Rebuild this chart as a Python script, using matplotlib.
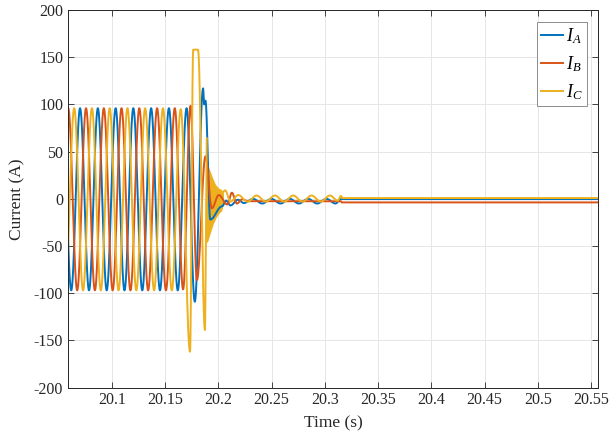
import numpy as np
import matplotlib
matplotlib.use("Agg")
import matplotlib.pyplot as plt

# extrema (time in s, current in A), one list per phase
t_A = [20.0537, 20.0620, 20.0703, 20.0787, 20.0870, 20.0953, 20.1037, 20.1120,
       20.1203, 20.1287, 20.1370, 20.1453, 20.1537, 20.1620, 20.1703, 20.1780,
       20.1858, 20.1868, 20.1880, 20.1925, 20.2035, 20.2075, 20.2115, 20.2185,
       20.2241, 20.2327, 20.2413, 20.2499, 20.2585, 20.2671, 20.2757, 20.2843,
       20.2929, 20.3015, 20.3101, 20.3150, 20.5600]
i_A = [96, -97, 96, -97, 96, -97, 96, -97,
       96, -97, 96, -97, 96, -97, 96, -109,
       117, 100, 104, -22, -8, -2, -7, -1,
       -4.5, 0, -5, 0, -5, 0, -5, 0,
       -5, 0, -5, -0.3, -0.3]

t_B = [20.0509, 20.0592, 20.0676, 20.0759, 20.0842, 20.0926, 20.1009, 20.1092,
       20.1176, 20.1259, 20.1342, 20.1426, 20.1509, 20.1592, 20.1670, 20.1740,
       20.1800, 20.1880, 20.1940, 20.2005, 20.2085, 20.2128, 20.2175, 20.2225,
       20.2280, 20.3150, 20.3160, 20.5600]
i_B = [-97, 96, -97, 96, -97, 96, -97, 96,
       -97, 96, -97, 96, -97, 96, -96, 98.5,
       -86, 45, -10, 4, -6, 6.5, -5, -0.5,
       -2.5, -2.5, -3.8, -3.8]

# phase C before the ringing burst
t_C1 = [20.0564, 20.0648, 20.0731, 20.0814, 20.0898, 20.0981, 20.1064, 20.1148,
        20.1231, 20.1314, 20.1398, 20.1481, 20.1564, 20.1648, 20.1735, 20.1765,
        20.1810, 20.1875, 20.1893]
i_C1 = [-97, 96, -97, 96, -97, 96, -97, 96,
        -97, 96, -97, 96, -97, 95, -162, 158,
        158, -139, 64]
# phase C after the burst
t_C2 = [20.2035, 20.2065, 20.2115, 20.2188, 20.2274, 20.2360, 20.2446, 20.2532,
        20.2618, 20.2704, 20.2790, 20.2876, 20.2962, 20.3049, 20.3120, 20.3153,
        20.3165, 20.5600]
i_C2 = [6, 9, -3, 4, -3, 3.5, -3, 3.5,
        -3, 3.5, -3, 3.5, -3, 3.5, -2, 3,
        0.8, 0.8]

# envelope of the high-frequency burst on phase C
burst_t = [20.1891, 20.1905, 20.1925, 20.1945, 20.1965, 20.1985, 20.2005, 20.2025, 20.2040]
burst_hi = [38, 32, 26, 20, 15, 12, 10, 9, 6]
burst_lo = [-45, -40, -33, -26, -21, -17, -14, -12, -4]

x_ticks = [20.1, 20.15, 20.2, 20.25, 20.3, 20.35, 20.4, 20.45, 20.5, 20.55]
y_ticks = [-200, -150, -100, -50, 0, 50, 100, 150, 200]


def smooth(ts, vs, n=40):
    # join successive extrema with half-cosine arcs
    tt, vv = [], []
    for k in range(len(ts) - 1):
        s = np.linspace(0, 1, n, endpoint=False)
        tt.append(ts[k] + (ts[k + 1] - ts[k]) * s)
        vv.append(vs[k] + (vs[k + 1] - vs[k]) * (1 - np.cos(np.pi * s)) / 2)
    tt.append([ts[-1]])
    vv.append([vs[-1]])
    return np.concatenate(tt), np.concatenate(vv)


plt.rcParams["font.family"] = ["Liberation Serif", "DejaVu Serif"]
plt.rcParams["mathtext.fontset"] = "custom"
plt.rcParams["mathtext.rm"] = "Liberation Serif"
plt.rcParams["mathtext.it"] = "Liberation Serif:italic"
plt.rcParams["axes.unicode_minus"] = False

c_A, c_B, c_C = "#0072BD", "#D95319", "#EDB120"

fig = plt.figure(figsize=(6.09, 4.36), dpi=100)
ax = fig.add_axes([0.1117, 0.111, 0.8703, 0.866])

lw = 1.4
x, y = smooth(t_A, i_A)
ax.plot(x, y, color=c_A, lw=lw, label="$I_A$")
x, y = smooth(t_B, i_B)
ax.plot(x, y, color=c_B, lw=lw, label="$I_B$")
x, y = smooth(t_C1, i_C1)
ax.plot(x, y, color=c_C, lw=lw, label="$I_C$")
ax.fill_between(burst_t, burst_lo, burst_hi, color=c_C, lw=lw, edgecolor=c_C)
x, y = smooth(t_C2, i_C2)
ax.plot(x, y, color=c_C, lw=lw)

ax.set_xlim(20.059, 20.5565)
ax.set_ylim(-200, 200)
ax.set_xticks(x_ticks)
ax.set_xticklabels(["%g" % v for v in x_ticks])
ax.set_yticks(y_ticks)
ax.tick_params(direction="in", top=True, right=True, length=4, width=0.6,
               labelsize=11.5, color="#262626", labelcolor="#262626")
for sp in ax.spines.values():
    sp.set_color("#262626")
    sp.set_linewidth(0.7)
ax.grid(True, color="#e6e6e6", lw=0.7)
ax.set_axisbelow(True)

ax.set_xlabel("Time (s)", fontsize=12.5, color="#262626", labelpad=5)
ax.set_ylabel("Current (A)", fontsize=12.5, color="#262626", labelpad=6)

leg = ax.legend(loc="upper right", bbox_to_anchor=(0.979, 0.968), borderaxespad=0,
                fontsize=13, handlelength=1.2, handletextpad=0.15, borderpad=0.25,
                labelspacing=0.45, fancybox=False, framealpha=1,
                edgecolor="#8c8c8c")
leg.get_frame().set_linewidth(0.7)

fig.savefig("out.png", dpi=100)
